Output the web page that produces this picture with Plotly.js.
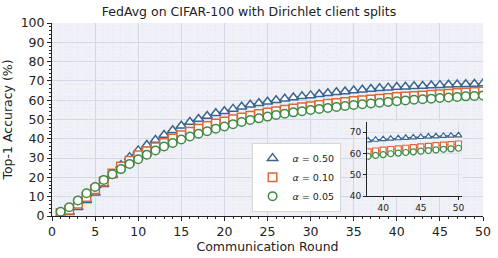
<!DOCTYPE html>
<html>
<head>
<meta charset="utf-8">
<script src="https://cdn.plot.ly/plotly-3.0.1.min.js"></script>
<style>html,body{margin:0;padding:0;background:#fff;}#chart{width:498px;height:258px;}</style>
</head>
<body>
<div id="chart"></div>
<script>
// ---- data ----
var rounds = [1,2,3,4,5,6,7,8,9,10,11,12,13,14,15,16,17,18,19,20,21,22,23,24,25,
              26,27,28,29,30,31,32,33,34,35,36,37,38,39,40,41,42,43,44,45,46,47,48,49,50];
var acc050 = [0.5,2.0,4.5,8.2,12.0,16.5,21.3,26.3,30.5,34.0,36.8,39.4,42.0,44.4,46.8,48.7,50.3,51.8,53.2,54.3,
              55.5,56.6,57.6,58.4,59.2,60.0,60.7,61.4,62.0,62.5,63.1,63.6,64.1,64.5,65.0,65.4,65.8,66.2,66.5,66.8,
              67.0,67.2,67.4,67.6,67.8,68.0,68.1,68.3,68.4,68.6];
var acc010 = [1.6,3.3,6.3,9.8,13.8,17.9,22.0,25.6,28.6,31.5,33.6,35.6,37.8,40.1,41.9,43.6,45.2,46.6,47.9,49.0,
              50.1,51.1,52.0,52.8,53.6,54.3,55.0,55.7,56.3,56.9,57.5,58.1,58.6,59.1,59.6,60.0,60.4,60.8,61.2,61.6,
              61.9,62.2,62.5,62.8,63.1,63.4,63.7,64.0,64.2,64.5];
var acc005 = [2.2,4.5,8.0,11.8,15.0,18.7,21.6,24.3,27.0,29.4,31.8,34.0,36.0,37.8,39.6,41.2,42.6,43.9,45.2,46.4,
              47.6,48.7,49.7,50.6,51.5,52.3,53.0,53.7,54.3,54.9,55.5,56.0,56.5,57.0,57.5,57.9,58.3,58.7,59.1,59.5,
              59.9,60.2,60.5,60.8,61.1,61.4,61.7,62.0,62.2,62.5];
var seriesNames = ['<i>α</i> = 0.50', '<i>α</i> = 0.10', '<i>α</i> = 0.05'];
var insetStart = 38;

// ---- styles ----
var colors = ['#3b6591', '#dc6839', '#3d8b45'];
var symbols = ['triangle-up', 'square', 'circle'];
var seriesVals = [acc050, acc010, acc005];

var inRounds = rounds.filter(function(r){return r >= insetStart;});
function tail(arr){ return arr.filter(function(v,i){return rounds[i] >= insetStart;}); }

var traces = [];
seriesVals.forEach(function(vals, k){
  traces.push({x: rounds, y: vals, mode: 'lines', type: 'scatter', showlegend: false,
    line: {color: colors[k], width: 1.4}, hoverinfo: 'skip', xaxis: 'x', yaxis: 'y'});
});
seriesVals.forEach(function(vals, k){
  traces.push({x: rounds, y: vals, mode: 'markers', type: 'scatter', name: seriesNames[k],
    marker: {symbol: symbols[k], size: k === 0 ? 9 : 8.5, color: '#ffffff', line: {color: colors[k], width: 1.5}},
    xaxis: 'x', yaxis: 'y'});
});
seriesVals.forEach(function(vals, k){
  traces.push({x: inRounds, y: tail(vals), mode: 'lines+markers', type: 'scatter', showlegend: false,
    line: {color: colors[k], width: 1.2},
    marker: {symbol: symbols[k], size: 6, color: '#ffffff', line: {color: colors[k], width: 1.2}},
    xaxis: 'x2', yaxis: 'y2'});
});

var fontFam = 'DejaVu Sans, sans-serif';
var layout = {
  width: 498, height: 258,
  margin: {l: 52, r: 15, t: 23, b: 42},
  paper_bgcolor: '#ffffff',
  plot_bgcolor: '#eff1f7',
  font: {family: fontFam, size: 12.5, color: '#222'},
  title: {text: 'FedAvg on CIFAR-100 with Dirichlet client splits', font: {size: 12.5, color: '#222'},
          x: 0.5, xanchor: 'center', y: 0.955, yanchor: 'middle'},
  showlegend: true,
  legend: {x: 0.463, y: 0.38, xanchor: 'left', yanchor: 'top', bgcolor: '#ffffff',
           bordercolor: '#d6d6d6', borderwidth: 1, font: {size: 9.5, color: '#222'},
           itemwidth: 30, tracegroupgap: 0},
  xaxis: {range: [0, 50], dtick: 5, tick0: 0, showline: true, linecolor: '#222', linewidth: 1,
          ticks: 'outside', ticklen: 4, tickcolor: '#222', tickfont: {size: 12.5},
          showgrid: true, gridcolor: '#d3d8e6', gridwidth: 1, zeroline: false,
          minor: {dtick: 1, showgrid: true, gridcolor: '#e6e9f1', gridwidth: 0.8, griddash: 'dot', ticks: 'outside', ticklen: 2, tickcolor: '#222'},
          title: {text: 'Communication Round', font: {size: 12.5}, standoff: 4}},
  yaxis: {range: [0, 100], dtick: 10, tick0: 0, showline: true, linecolor: '#222', linewidth: 1,
          ticks: 'outside', ticklen: 4, tickcolor: '#222', tickfont: {size: 12.5},
          showgrid: true, gridcolor: '#d3d8e6', gridwidth: 1, zeroline: false,
          minor: {dtick: 2, showgrid: true, gridcolor: '#e8ebf2', gridwidth: 0.8, griddash: 'dot', ticks: 'outside', ticklen: 2, tickcolor: '#222'},
          title: {text: 'Top-1 Accuracy (%)', font: {size: 12.5}, standoff: 6}},
  xaxis2: {domain: [0.7316, 0.952], anchor: 'y2', range: [37.9, 50.5], tickvals: [40, 45, 50],
           showline: true, linecolor: '#222', linewidth: 1.2, ticks: 'outside', ticklen: 3, tickcolor: '#222',
           tickfont: {size: 9}, showgrid: true, gridcolor: '#dde1ec', zeroline: false},
  yaxis2: {domain: [0.1036, 0.4886], anchor: 'x2', range: [40, 75], tickvals: [40, 50, 60, 70],
           showline: true, linecolor: '#222', linewidth: 1.2, ticks: 'outside', ticklen: 3, tickcolor: '#222',
           tickfont: {size: 9}, showgrid: true, gridcolor: '#dde1ec', zeroline: false}
};

Plotly.newPlot('chart', traces, layout, {displayModeBar: false, staticPlot: true});
</script>
</body>
</html>
